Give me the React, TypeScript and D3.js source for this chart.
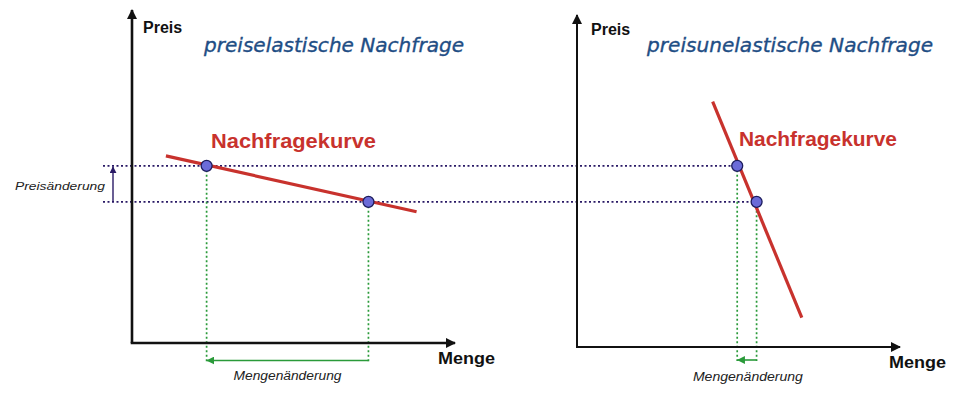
import React from "react";
import * as d3 from "d3";

// ---- data (Menge / Preis in abstract units 0..100) ----
const panelTitles = ["preiselastische Nachfrage", "preisunelastische Nachfrage"];
const axisLabelY = "Preis";
const axisLabelX = "Menge";
const curveLabel = "Nachfragekurve";
const priceChangeLabel = "Preisänderung";
const quantityChangeLabel = "Mengenänderung";

// two price levels shared by both panels
const prices = [53.2, 42.4];

// elastic demand
const elasticCurveMenge = [10.5, 88.1];
const elasticCurvePreis = [56.2, 39.4];
const elasticPointMenge = [23.1, 73.2];

// inelastic demand
const inelasticCurveMenge = [42.0, 69.6];
const inelasticCurvePreis = [72.5, 7.6];
const inelasticPointMenge = [49.6, 55.6];

const W = 964;
const H = 393;

const RED = "#c8322d";
const BLUE_T = "#1f4e85";
const PURPLE = "#2a1a66";
const GREEN = "#2a9a3a";
const PT_FILL = "#6b6bd8";
const PT_STROKE = "#1c1c5c";

export default function App() {
  const y = d3.scaleLinear().domain([0, 100]).range([343, 10]);
  const xL = d3.scaleLinear().domain([0, 100]).range([132, 455]);
  const xR = d3.scaleLinear().domain([0, 100]).range([577, 900]);
  const line = d3.line<[number, number]>();

  const panels = [
    {
      x: xL,
      title: panelTitles[0],
      curveM: elasticCurveMenge,
      curveP: elasticCurvePreis,
      ptM: elasticPointMenge,
      axisY: 343,
      axisTop: 10,
      axisW: 2.6,
      titleX: 204,
      titleLen: 260,
      preisX: 143,
      preisY: 33,
      curveLblX: 211,
      curveLblY: 148,
      curveLblLen: 165,
      mengeX: 438,
      mengeY: 364,
      qArrowY: 360.5,
      qLblY: 380,
      qLblLen: 108,
    },
    {
      x: xR,
      title: panelTitles[1],
      curveM: inelasticCurveMenge,
      curveP: inelasticCurvePreis,
      ptM: inelasticPointMenge,
      axisY: 347,
      axisTop: 15,
      axisW: 2,
      titleX: 647,
      titleLen: 286,
      preisX: 591,
      preisY: 35,
      curveLblX: 739,
      curveLblY: 146,
      curveLblLen: 158,
      mengeX: 889,
      mengeY: 368,
      qArrowY: 360,
      qLblY: 381,
      qLblLen: 110,
    },
  ];

  const hLineStart = 103;

  return (
    <svg
      width={W}
      height={H}
      viewBox={`0 0 ${W} ${H}`}
      style={{ position: "absolute", left: 0, top: 0, background: "#fff" }}
      fontFamily="'Liberation Sans', Arial, sans-serif"
    >
      <defs>
        <marker id="arrBlack" viewBox="0 0 10 10" refX="9" refY="5" markerWidth="4" markerHeight="4" orient="auto" markerUnits="strokeWidth">
          <path d="M0,0 L10,5 L0,10 z" fill="#111" />
        </marker>
        <marker id="arrBlack2" viewBox="0 0 10 10" refX="9" refY="5" markerWidth="5" markerHeight="5" orient="auto" markerUnits="strokeWidth">
          <path d="M0,0 L10,5 L0,10 z" fill="#111" />
        </marker>
        <marker id="arrGreen" viewBox="0 0 10 10" refX="9" refY="5" markerWidth="5" markerHeight="5" orient="auto" markerUnits="strokeWidth">
          <path d="M0,0 L10,5 L0,10 z" fill={GREEN} />
        </marker>
        <marker id="arrPurple" viewBox="0 0 10 10" refX="9" refY="5" markerWidth="5" markerHeight="5" orient="auto" markerUnits="strokeWidth">
          <path d="M0,0 L10,5 L0,10 z" fill={PURPLE} />
        </marker>
      </defs>

      {/* shared dotted price lines */}
      {prices.map((p, i) => (
        <line
          key={"hp" + i}
          x1={hLineStart}
          x2={panels[1].x(panels[1].ptM[i])}
          y1={y(p)}
          y2={y(p)}
          stroke={PURPLE}
          strokeWidth={1.8}
          strokeDasharray="2 2.5"
        />
      ))}

      {/* Preisänderung arrow */}
      <line
        x1={113}
        x2={113}
        y1={y(prices[1])}
        y2={y(prices[0]) + 1}
        stroke={PURPLE}
        strokeWidth={1.4}
        markerEnd="url(#arrPurple)"
      />
      <text x={15} y={190} fontSize={11} fontStyle="italic" fill="#222" textLength={90} lengthAdjust="spacingAndGlyphs">
        {priceChangeLabel}
      </text>

      {panels.map((pn, k) => {
        const ax = pn.x(0);
        const curve: [number, number][] = pn.curveM.map((m, i) => [pn.x(m), y(pn.curveP[i])]);
        return (
          <g key={k}>
            {/* green dotted verticals */}
            {pn.ptM.map((m, i) => (
              <line
                key={"gv" + i}
                x1={pn.x(m)}
                x2={pn.x(m)}
                y1={y(prices[i])}
                y2={pn.qArrowY + 1}
                stroke={GREEN}
                strokeWidth={1.7}
                strokeDasharray="2 2.5"
              />
            ))}
            {/* Mengenänderung arrow */}
            <line
              x1={pn.x(pn.ptM[1])}
              x2={pn.x(pn.ptM[0]) + 0.5}
              y1={pn.qArrowY}
              y2={pn.qArrowY}
              stroke={GREEN}
              strokeWidth={1.6}
              markerEnd="url(#arrGreen)"
            />
            <text
              x={(pn.x(pn.ptM[0]) + pn.x(pn.ptM[1])) / 2 + (k === 0 ? 0 : 1)}
              y={pn.qLblY}
              textAnchor="middle"
              fontSize={12}
              fontStyle="italic"
              fill="#222"
              textLength={pn.qLblLen}
              lengthAdjust="spacingAndGlyphs"
            >
              {quantityChangeLabel}
            </text>

            {/* axes */}
            <line
              x1={ax}
              x2={ax}
              y1={pn.axisY}
              y2={pn.axisTop}
              stroke="#111"
              strokeWidth={pn.axisW}
              markerEnd={k === 0 ? "url(#arrBlack)" : "url(#arrBlack2)"}
            />
            <line
              x1={ax - pn.axisW / 2}
              x2={pn.x(100)}
              y1={pn.axisY}
              y2={pn.axisY}
              stroke="#111"
              strokeWidth={pn.axisW}
              markerEnd={k === 0 ? "url(#arrBlack)" : "url(#arrBlack2)"}
            />

            {/* demand curve */}
            <path d={line(curve) || ""} stroke={RED} strokeWidth={3.2} fill="none" />

            {/* points */}
            {pn.ptM.map((m, i) => (
              <circle key={"pt" + i} cx={pn.x(m)} cy={y(prices[i])} r={5.5} fill={PT_FILL} stroke={PT_STROKE} strokeWidth={1.3} />
            ))}

            {/* labels */}
            <text x={pn.preisX} y={pn.preisY} fontSize={16} fontWeight="bold" fill="#111">
              {axisLabelY}
            </text>
            <text x={pn.mengeX} y={pn.mengeY} fontSize={17} fontWeight="bold" fill="#111" textLength={57} lengthAdjust="spacingAndGlyphs">
              {axisLabelX}
            </text>
            <text
              x={pn.titleX}
              y={52}
              fontFamily="'DejaVu Sans', Verdana, sans-serif"
              fontStyle="italic"
              fontSize={19}
              fill={BLUE_T}
              stroke={BLUE_T}
              strokeWidth={0.35}
              textLength={pn.titleLen}
              lengthAdjust="spacingAndGlyphs"
            >
              {pn.title}
            </text>
            <text
              x={pn.curveLblX}
              y={pn.curveLblY}
              fontSize={21}
              fontWeight="bold"
              fill={RED}
              textLength={pn.curveLblLen}
              lengthAdjust="spacingAndGlyphs"
            >
              {curveLabel}
            </text>
          </g>
        );
      })}
    </svg>
  );
}
